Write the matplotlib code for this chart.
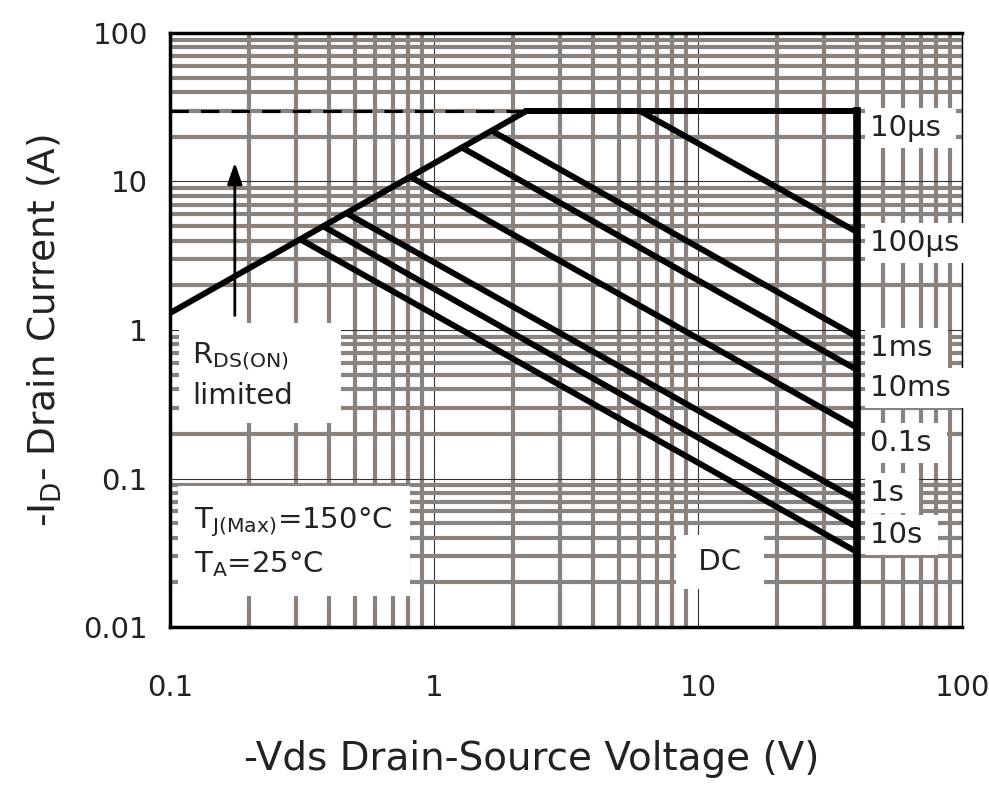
import matplotlib
matplotlib.use("Agg")
import matplotlib.pyplot as plt
from matplotlib.ticker import FixedLocator, FixedFormatter, LogLocator, NullFormatter

plt.rcParams['font.family'] = ['DejaVu Sans']

# ---- data ----
x_ticks = [0.1, 1, 10, 100]
x_tick_labels = ["0.1", "1", "10", "100"]
y_ticks = [0.01, 0.1, 1, 10, 100]
y_tick_labels = ["0.01", "0.1", "1", "10", "100"]

rds_v = [0.1, 2.25]          # R_DS(on) limit line
rds_i = [1.3, 30]
current_limit = 30           # package current limit (A)
vmax = 40                    # max Vds (V)

curve_labels = ["100µs", "1ms", "10ms", "0.1s", "1s", "10s", "DC"]
curve_start_v = [6.0, 1.65, 1.27, 0.81, 0.46, 0.38, 0.31]
curve_start_i = [30, 22, 17, 10.8, 6.2, 5.0, 4.1]
curve_end_v = [40, 40, 40, 40, 40, 40, 40]
curve_end_i = [4.57, 0.90, 0.54, 0.22, 0.072, 0.047, 0.032]

right_labels = ["10µs", "100µs", "1ms", "10ms", "0.1s", "1s", "10s"]
right_label_y = [22.9, 3.86, 0.757, 0.407, 0.173, 0.080, 0.0417]

txt_col = '#222222'
fs = 21

fig = plt.figure(figsize=(9.89, 7.86), dpi=100)
ax = fig.add_axes([170/989, (786-627)/786, (962-170)/989, (627-33)/786])
ax.set_xscale('log')
ax.set_yscale('log')
ax.set_xlim(0.1, 100)
ax.set_ylim(0.01, 100)

grid_col = '#8a827d'
ax.xaxis.set_minor_locator(LogLocator(base=10, subs=range(2, 10)))
ax.yaxis.set_minor_locator(LogLocator(base=10, subs=range(2, 10)))
ax.xaxis.set_minor_formatter(NullFormatter())
ax.yaxis.set_minor_formatter(NullFormatter())
ax.grid(which='minor', color=grid_col, linewidth=3.0, zorder=0)
ax.grid(which='major', color='#333333', linewidth=0.8, zorder=0)
ax.set_axisbelow(True)

ax.xaxis.set_major_locator(FixedLocator(x_ticks))
ax.xaxis.set_major_formatter(FixedFormatter(x_tick_labels))
ax.yaxis.set_major_locator(FixedLocator(y_ticks))
ax.yaxis.set_major_formatter(FixedFormatter(y_tick_labels))
ax.tick_params(which='both', length=0, labelsize=fs, colors=txt_col)
ax.tick_params(axis='x', pad=34)
ax.tick_params(axis='y', pad=16)

for s in ['left', 'top', 'bottom']:
    ax.spines[s].set_linewidth(2.5)
ax.spines['right'].set_linewidth(1.0)

lw = 4.3
# R_DS(on) line
ax.plot(rds_v, rds_i, color='black', lw=lw, solid_capstyle='butt', zorder=5)
# dashed extension of current limit
ax.plot([0.1, rds_v[1]], [current_limit, current_limit], color='black', lw=2.2,
        dashes=(6, 4), zorder=5)
# current limit & voltage limit
ax.plot([rds_v[1], vmax], [current_limit, current_limit], color='black', lw=lw, zorder=5)
ax.plot([vmax, vmax], [current_limit, 0.01], color='black', lw=5.5, zorder=6)

for sv, si, ev, ei in zip(curve_start_v, curve_start_i, curve_end_v, curve_end_i):
    ax.plot([sv, ev], [si, ei], color='black', lw=lw, solid_capstyle='butt', zorder=5)

box = dict(boxstyle='square,pad=0.2', facecolor='white', edgecolor='none')
for lab, y in zip(right_labels, right_label_y):
    ax.text(45, y, lab + " ", fontsize=fs, ha='left', va='center', color=txt_col,
            bbox=box, zorder=4)

ax.text(12.1, 0.0274, " DC ", fontsize=fs, ha='center', va='center', color=txt_col,
        bbox=dict(boxstyle='square,pad=0.45', facecolor='white', edgecolor='none'), zorder=4)

ax.text(0.121, 0.50, "R$_{\\mathrm{DS(ON)}}$     \nlimited", fontsize=fs, ha='left', va='center',
        color=txt_col, linespacing=1.45,
        bbox=dict(boxstyle='square,pad=0.45', facecolor='white', edgecolor='none'), zorder=4)

ax.text(0.123, 0.037, "T$_{\\mathrm{J(Max)}}$=150°C \nT$_{\\mathrm{A}}$=25°C", fontsize=fs,
        ha='left', va='center', color=txt_col, linespacing=1.45,
        bbox=dict(boxstyle='square,pad=0.55', facecolor='white', edgecolor='none'), zorder=4)

ax.annotate("", xy=(0.176, 14), xytext=(0.176, 1.2),
            arrowprops=dict(arrowstyle='-|>,head_width=0.45,head_length=1.3',
                            color='black', lw=2), zorder=6)

ax.set_xlabel("-Vds Drain-Source Voltage (V)", fontsize=28, color=txt_col)
ax.xaxis.set_label_coords(0.457, -0.19)
ax.set_ylabel("-I$_{\\mathrm{D}}$- Drain Current (A)", fontsize=27, labelpad=14, color=txt_col)

fig.savefig("out.png", dpi=100, facecolor='white')
